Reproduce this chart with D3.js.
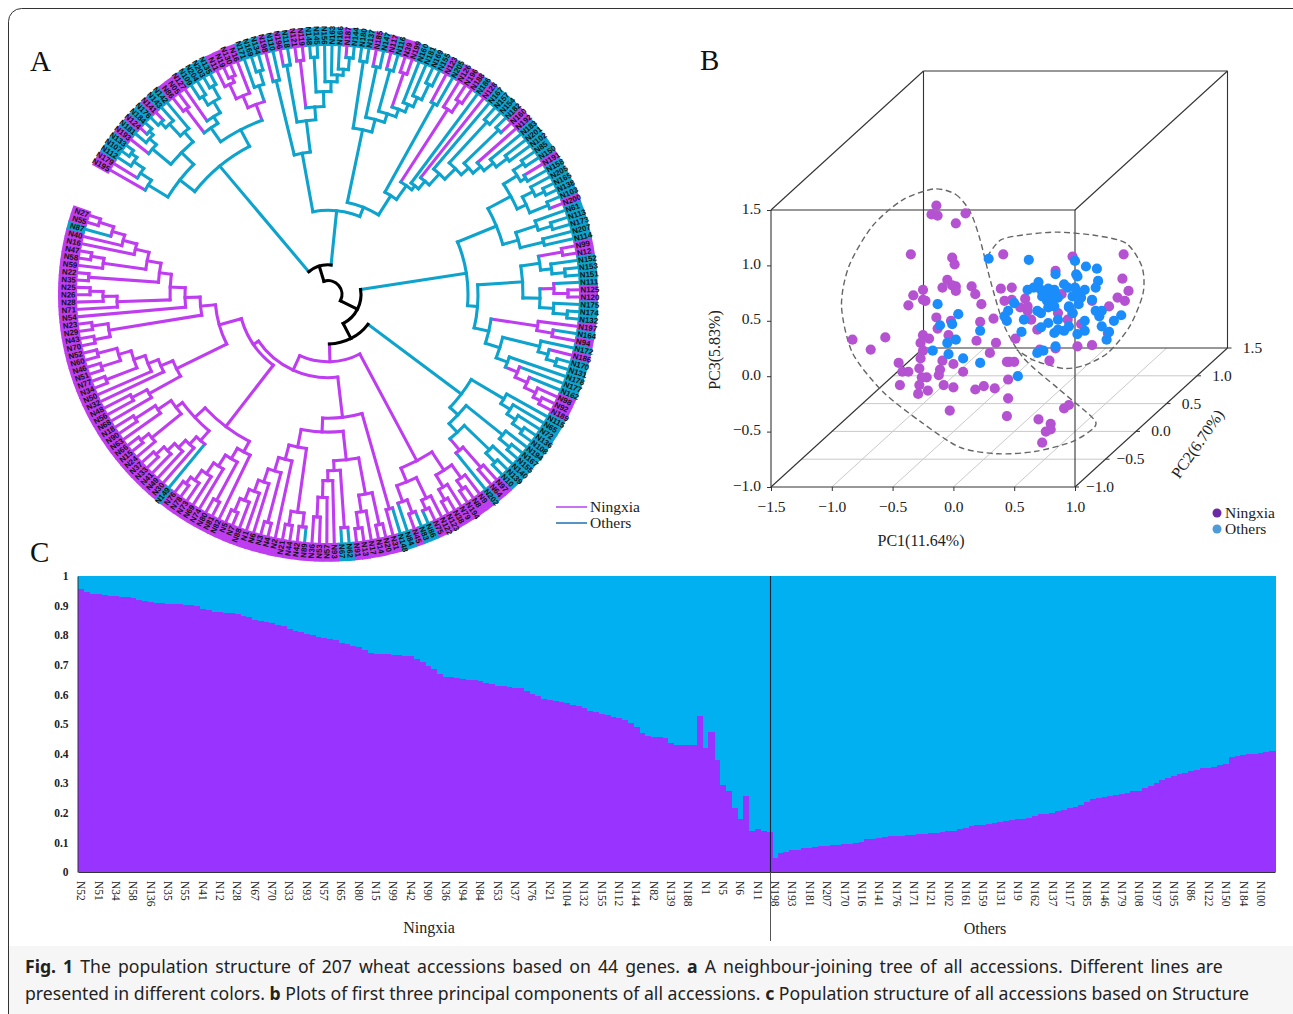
<!DOCTYPE html>
<html><head><meta charset="utf-8">
<script src="https://cdn.jsdelivr.net/npm/d3@7"></script>
<style>
html,body{margin:0;padding:0;background:#fff}
svg{display:block}
text{font-family:"Liberation Serif",serif;fill:#222}
.cap{font-family:"Noto Sans",sans-serif;font-size:17.65px;fill:#222}
</style></head><body>
<svg id="fig" width="1293" height="1014"></svg>
<script>
// ---------- Panel A data ----------
const leafNames=["N195","N179","N112","N107","N133","N193","N181","N124","N184","N176",
"N141","N143","N142","N86","N05","N127","N109","N204","N203","N135",
"N11","N19","N130","N16","N171","N169","N134","N198","N110","N196",
"N118","N121","N119","N148","N145","N156","N163","N166","N187","N144",
"N180","N137","N185","N147","N117","N116","N39","N199","N160","N181",
"N169","N155","N123","N205","N126","N196","N188","N186","N128","N167",
"N157","N154","N182","N160","N192","N183","N201","N102","N85","N150",
"N191","N158","N205","N165","N138","N103","N200","N61","N113","N173",
"N207","N114","N99","N12","N152","N153","N151","N111","N125","N120",
"N175","N174","N132","N197","N164","N94","N172","N186","N170","N131",
"N178","N177","N162","N98","N92","N189","N115","N65","N72","N136",
"N108","N194","N167","N155","N140","N139","N10","N97","N64","N202",
"N9","N8","N194","N79","N38","N123","N122","N75","N86","N83",
"N45","N84","N148","N31","N20","N14","N17","N13","N91","N62",
"N67","N93","N57","N53","N36","N89","N42","N44","N21","N2",
"N4","N3","N6","N1","N88","N7","N5","N82","N81","N80",
"N74","N69","N73","N78","N76","N149","N30","N49","N41","N33",
"N37","N24","N15","N66","N63","N90","N18","N68","N56","N48",
"N32","N50","N34","N77","N51","N46","N60","N52","N70","N43",
"N29","N23","N54","N71","N28","N26","N25","N35","N22","N59",
"N58","N47","N16","N40","N87","N55","N27"];
// 1 = Ningxia, 0 = Others, one per leaf
const leafNingxia=[1,1,0,0,0,1,0,1,0,0, 1,0,0,1,1,1,0,0,0,0, 1,1,1,1,0,0,0,1,0,1,
0,1,1,0,0,0,0,0,1,0, 0,0,1,0,1,0,1,1,0,0, 0,0,1,0,1,1,1,0,1,0,
0,0,0,1,1,0,0,0,0,0, 1,0,0,0,0,0,1,0,0,0, 0,0,1,1,0,0,0,0,1,1,
0,0,0,1,0,1,0,1,0,0, 0,0,0,1,1,1,0,0,0,0, 0,0,0,0,0,0,0,1,1,0,
1,1,1,1,1,1,1,1,0,0, 1,0,0,1,1,1,1,1,1,0, 0,1,1,1,1,1,1,1,1,1,
1,1,1,1,1,1,1,1,1,1, 1,1,1,1,1,0,1,1,1,1, 1,1,1,1,1,1,1,1,1,1,
1,1,1,1,1,1,1,1,1,1, 1,1,1,1,1,1,1,1,1,1, 1,1,1,1,0,1,1];
const branchOthersOverride=["N89"];
// Tree: [node distance from root, ...children]; 0 is a leaf, taken in leafNames order
const cladeA=[169,
 [188,[211,0,[224,0,[236,0,[243,0,0]]]],
      [205,[229,0,[238,0,[243,0,0]]],[218,[234,[241,0,0],0],0]]],
 [188,[205,[235,0,0],[213,0,[226,[236,0,0],[240,0,0]]]],
      [205,[218,[234,0,[240,0,0]],0],[222,0,[236,0,0]]]]];
const cladeB=[85,
 [145,[222,0,0],[177,[235,0,0],[190,[238,0,0],[205,[240,0,0],[215,0,[222,0,[228,0,[240,0,0]]]]]]]],
 [95,
  [170,[238,0,0],[183,[235,0,0],[192,[235,0,0],[200,[236,0,0],[208,0,[218,0,[235,0,0]]]]]]],
  [118,[220,0,0],[135,[222,0,[235,0,0]],[140,0,[150,0,[165,0,[180,[236,0,0],[190,[238,0,0],[200,0,[212,0,[226,0,0]]]]]]]]]]]];
const cladeC=[140,
 [182,
  [208,[224,[236,0,0],[230,0,0]],[218,[230,0,[240,0,0]],[238,0,0]]],
  [198,[220,0,[234,0,0]],[222,0,0]]],
 [150,
  [195,[214,[238,0,0],[225,0,[238,0,0]]],[212,[226,0,[240,0,0]],[226,0,[240,0,0]]]],
  [165,[212,0,[228,0,0]],[180,[218,0,[228,0,[238,0,0]]],[192,0,[205,0,[218,0,[230,0,[238,0,0]]]]]]]]];
const cladeD=[167,
 [205,0,[216,0,[226,0,[238,0,0]]]],
 [178,[225,0,[238,0,0]],[190,[225,0,[238,0,0]],[205,[232,0,0],0]]]];
const cladeE1=[190,
 [212,[228,0,[238,0,0]],[226,0,[238,0,0]]],
 [205,[228,0,[238,0,0]],[222,[236,0,0],0]]];
const cladeE2=[125,[225,0,0],
 [139,
  [168,[205,[238,0,0],[222,0,[238,0,0]]],[178,[236,0,0],[188,0,[205,0,[225,0,0]]]]],
  [157,[222,[236,0,0],[236,0,0]],[172,0,[186,[238,0,0],[200,0,[212,0,[224,0,[238,0,0]]]]]]]]];
const cladeE3b=[168,
 [180,0,[192,[236,0,0],[205,0,[218,0,[230,0,[238,0,0]]]]]],
 [182,[195,0,[205,0,[215,0,[225,0,[236,0,0]]]]],[190,[228,0,[238,0,0]],[206,0,[230,0,0]]]]];
const cladeE3c=[169,[205,0,[222,0,0]],[182,0,[193,0,[205,[238,0,0],[218,[238,0,0],[238,0,0]]]]]];
const cladeE3d=[128,[222,[238,0,0],[238,0,0]],
 [143,0,[158,[211,0,[225,0,[238,0,0]]],
  [170,[240,0,0],[184,[227,0,[240,0,0]],[198,0,[212,0,[225,0,[240,0,0]]]]]]]]];
const treeRoot=[14,[30,cladeA,cladeB],
 [33,cladeC,[50,cladeD,[68,cladeE1,[84,cladeE2,[90,cladeE3b,[113,cladeE3c,cladeE3d]]]]]]];

// ---------- Panel B data (PC1, PC3 as projected on the front face) ----------
const ningxiaPoints=[[-.14,1.54],[-.18,1.46],[-.13,1.45],[.10,1.47],[.02,1.38],[-.35,1.10],[-.01,1.07],[.01,1.01],[.41,1.10],[.98,1.08],[1.40,1.10],[.84,.95],[1.39,.88],[1.44,.77],[1.35,.71],[1.41,.68],[1.28,.63],[-.05,.87],[-.09,.80],[-.01,.82],[.02,.81],[.02,.77],[.15,.81],[.18,.74],[.23,.65],[.39,.79],[.48,.80],[-.25,.78],[-.33,.73],[-.25,.69],[-.23,.68],[-.37,.64],[-.14,.53],[-.02,.50],[-.13,.43],[.22,.49],[.33,.52],[.42,.68],[.48,.69],[.59,.70],[.55,.62],[.61,.59],[.69,.42],[1.27,.39],[1.02,.27],[1.14,.28],[.84,.25],[.71,.24],[.79,.14],[.51,.34],[.35,.30],[.19,.32],[.30,.21],[-.04,.37],[-.83,.33],[-.68,.24],[-.56,.35],[-.25,.37],[-.20,.34],[-.27,.30],[-.25,.23],[-.27,.16],[-.45,.12],[-.42,.04],[-.37,.04],[-.28,.07],[-.22,-.01],[-.26,-.01],[-.09,.14],[-.11,.06],[-.12,.01],[0,.11],[.08,.04],[.44,.13],[.46,.13],[.50,.13],[.45,-.03],[-.44,-.08],[-.28,-.08],[-.21,-.13],[-.29,-.16],[-.08,-.08],[0,-.10],[.18,-.12],[.25,-.09],[.34,-.11],[.45,-.20],[-.03,-.31],[.44,-.36],[.70,-.39],[.80,-.43],[.80,-.48],[.76,-.50],[.73,-.60],[.91,-.29],[.95,-.26],[.64,.51],[.86,.57],[.94,.51],[1.05,.47],[1.14,.68],[.89,.74],[.61,.63],[.98,.57]];
const othersPoints=[[.29,1.06],[.62,1.05],[1.00,1.04],[1.09,.99],[1.18,.97],[1.01,.92],[1.02,.90],[.84,.92],[1.19,.86],[1.17,.80],[.70,.85],[.61,.78],[.66,.80],[.72,.78],[.78,.79],[.83,.78],[.91,.83],[.94,.80],[1.00,.80],[1.08,.78],[1.03,.75],[.98,.72],[.73,.72],[.78,.72],[.84,.74],[.77,.68],[.81,.68],[.86,.71],[1.05,.71],[1.14,.69],[.95,.63],[1.03,.65],[.50,.66],[.45,.59],[.42,.54],[.44,.50],[.58,.51],[.72,.57],[.69,.59],[.78,.62],[.83,.63],[.78,.48],[.86,.51],[.98,.57],[.95,.62],[1.17,.59],[1.22,.59],[1.20,.54],[1.22,.45],[1.08,.50],[1.38,.55],[1.32,.50],[1.28,.40],[1.26,.33],[1.08,.41],[1.02,.38],[.91,.41],[.83,.39],[.56,.40],[-.13,.65],[.04,.56],[-.11,.46],[-.01,.47],[.22,.41],[.02,.33],[-.05,.30],[-.17,.23],[-.04,.20],[.08,.16],[.22,.12],[.53,0],[.69,.21],[.74,.23],[.84,.27],[.72,.44],[.95,.45],[.86,.42]];
const leftHull=[[-.16,1.69],[.02,1.64],[.14,1.48],[.22,1.23],[.31,.84],[.42,.45],[.58,.16],[.86,-.11],[1.14,-.37],[1.16,-.46],[.98,-.59],[.67,-.68],[.36,-.70],[.05,-.64],[-.27,-.41],[-.58,-.14],[-.83,.21],[-.92,.63],[-.86,.99],[-.67,1.35],[-.42,1.59]];
const rightHull=[[.28,1.08],[.39,1.23],[.61,1.28],[.86,1.30],[1.17,1.27],[1.42,1.20],[1.55,.99],[1.56,.75],[1.45,.45],[1.27,.21],[1.08,.10],[.91,.07],[.67,.14],[.52,.24]];
const pcTicks13=[-1.5,-1,-.5,0,.5,1];
const pc3Ticks=[-1,-.5,0,.5,1,1.5];
const pc2Ticks=[-1,-.5,0,.5,1,1.5];

// ---------- Panel C data: Ningxia ancestry of each accession ----------
const ningxiaShare=[.955,.945,.94,.938,.936,.934,.932,.93,.928,.925,
.92,.915,.912,.91,.908,.906,.905,.904,.903,.902,
.90,.89,.885,.88,.878,.876,.874,.87,.865,.86,
.85,.848,.845,.84,.835,.83,.82,.815,.81,.805,
.80,.795,.79,.788,.785,.775,.77,.765,.76,.75,
.74,.738,.736,.735,.733,.732,.731,.73,.72,.71,
.695,.685,.67,.66,.658,.655,.652,.65,.648,.645,
.64,.635,.63,.628,.625,.622,.62,.61,.60,.595,
.585,.58,.578,.575,.57,.565,.56,.555,.545,.54,
.535,.53,.525,.52,.515,.505,.49,.47,.46,.456,
.456,.453,.436,.43,.428,.428,.428,.526,.42,.474,
.38,.295,.274,.217,.179,.256,.14,.145,.14,.135,
.048,.064,.066,.073,.075,.08,.082,.084,.087,.089,
.09,.092,.094,.095,.097,.10,.11,.113,.115,.117,
.12,.122,.123,.125,.126,.128,.13,.131,.133,.135,
.138,.14,.145,.15,.155,.158,.16,.163,.166,.17,
.173,.175,.178,.18,.183,.19,.195,.197,.20,.205,
.21,.215,.22,.228,.235,.245,.25,.255,.257,.26,
.265,.268,.272,.275,.285,.29,.30,.31,.318,.325,
.33,.335,.34,.345,.35,.352,.356,.36,.365,.39,
.393,.396,.398,.40,.402,.405,.41];
// every third bar is labelled
const barTickLabels=["N52","N51","N34","N58","N136","N35","N55","N41","N12","N28","N67","N70","N33","N93","N57","N65","N80","N15","N99","N42","N90","N36","N94","N84","N53","N37","N76","N21","N104","N132","N155","N112","N144","N82","N139","N188","N1","N5","N6","N11",
"N198","N193","N181","N207","N170","N116","N141","N176","N171","N121","N102","N161","N159","N131","N19","N162","N137","N117","N185","N146","N179","N108","N197","N195","N86","N122","N150","N184","N100"];
const shareTicks=[0,.1,.2,.3,.4,.5,.6,.7,.8,.9,1];

// ---------- Drawing ----------
const svg=d3.select("#fig");
const PURPLE="#bf3df0",TEAL="#0ea3cc";

// frame and caption band
svg.append("rect").attr("x",9).attr("y",946).attr("width",1284).attr("height",68).attr("fill","#f6f6f6");
svg.append("rect").attr("x",8.5).attr("y",8.5).attr("width",1310).attr("height",1100).attr("rx",13)
  .attr("fill","none").attr("stroke","#333").attr("stroke-width",1);

[["A",30,71],["B",700,70],["C",30,562]].forEach(d=>svg.append("text").text(d[0]).attr("x",d[1]).attr("y",d[2]).attr("font-size",29).style("fill","#111"));

// ---- Panel A ----
const gA=svg.append("g").attr("transform","translate(328,294.5) scale(1,0.99)");
const root=d3.hierarchy(treeRoot,d=>Array.isArray(d)?d.slice(1):null);
const leaves=root.leaves();
const angle=d3.scaleLinear().domain([0,206]).range([-60,-60+206*1.692]);
const radius=d3.scaleLinear().domain([0,251]).range([0,251]);
leaves.forEach((l,i)=>{l.idx=i;l.name=leafNames[i];l.ning=leafNingxia[i];l.ang=angle(i);l.r=radius(251);
  l.color=(l.ning&&!branchOthersOverride.includes(l.name))?PURPLE:TEAL;});
root.eachAfter(n=>{ if(n.children){ n.ang=(n.children[0].ang+n.children[n.children.length-1].ang)/2; n.r=radius(n.data[0]);
   const ls=n.leaves(); n.pn=d3.sum(ls,l=>l.ning); n.po=ls.length-n.pn; n.first=ls[0].idx; }});
// the clade from leaf 120 onward is the Ningxia clade; its inner branches stay purple
root.eachBefore(n=>{ if(n.children){ n.color=n.first>=120?PURPLE:(n.pn>n.po?PURPLE:(n.pn<n.po?TEAL:(n.parent?n.parent.color:TEAL))); n.core=n.data[0]<=50; }});
const rad=a=>(a-90)*Math.PI/180;
const gLinks=gA.append("g").attr("fill","none").attr("stroke-width",3.1).attr("stroke-linecap","square");
const nodes=root.descendants();
const stem=n=>{const p=d3.path();const a=rad(n.ang);p.moveTo(n.parent.r*Math.cos(a),n.parent.r*Math.sin(a));p.lineTo(n.r*Math.cos(a),n.r*Math.sin(a));return p.toString();};
const bow=n=>{const p=d3.path();p.arc(0,0,n.r,rad(n.children[0].ang),rad(n.children[n.children.length-1].ang));return p.toString();};
const ordered=nodes.slice().sort((a,b)=>(a.core?1:0)-(b.core?1:0));
gLinks.selectAll("path.stem").data(ordered.filter(n=>n.parent)).join("path").attr("class","stem").attr("d",stem).attr("stroke",n=>n.core?"#000":n.color);
gLinks.selectAll("path.bow").data(ordered.filter(n=>n.children)).join("path").attr("class","bow").attr("d",bow).attr("stroke",n=>n.core?"#000":n.color);
// label ring
const wedge=d3.arc().innerRadius(251).outerRadius(270);
const step=1.692*Math.PI/180;
gA.append("g").selectAll("path").data(leaves).join("path")
  .attr("d",l=>wedge({startAngle:l.ang*Math.PI/180-step/2-.002,endAngle:l.ang*Math.PI/180+step/2+.002}))
  .attr("fill",l=>l.ning?PURPLE:TEAL);
gA.append("g").selectAll("text").data(leaves).join("text")
  .text(l=>l.name)
  .attr("transform",l=>{const a=((l.ang%360)+360)%360; return a<180?`rotate(${l.ang-90}) translate(252.5,0)`:`rotate(${l.ang-90}) translate(252.5,0) rotate(180)`;})
  .attr("text-anchor",l=>{const a=((l.ang%360)+360)%360; return a<180?"start":"end";})
  .attr("dy","0.35em").attr("font-size",7.9).attr("font-weight","700")
  .style("font-family","'Liberation Sans',sans-serif").style("fill","#111");
// legend A
const legA=[["Ningxia","#b94ef0",507],["Others","#2b78b8",523]];
legA.forEach(d=>{svg.append("line").attr("x1",556).attr("x2",587).attr("y1",d[2]).attr("y2",d[2]).attr("stroke",d[1]).attr("stroke-width",1.6);
  svg.append("text").text(d[0]).attr("x",590).attr("y",d[2]+5).attr("font-size",15.5);});

// ---- Panel B ----
const gB=svg.append("g");
const x3=d3.scaleLinear().domain([-1.5,1]).range([771,1075]);
const y3=d3.scaleLinear().domain([-1,1.5]).range([487,210]);
const dpx=d3.scaleLinear().domain([-1,1.5]).range([0,152.5]);
const dpy=d3.scaleLinear().domain([-1,1.5]).range([0,-139]);
const proj=(a,b,c)=>[x3(a)+dpx(b),y3(c)+dpy(b)];
const seg=(g,p,q,col,w)=>g.append("line").attr("x1",p[0]).attr("y1",p[1]).attr("x2",q[0]).attr("y2",q[1]).attr("stroke",col).attr("stroke-width",w);
// floor grid
[-1,-.5,0,.5].forEach(t=>seg(gB,proj(t,-1,-1),proj(t,1.5,-1),"#c9c9c9",1));
[-.5,0,.5,1].forEach(t=>seg(gB,proj(-1.5,t,-1),proj(1,t,-1),"#c9c9c9",1));
// cube
const A0=-1.5,A1=1,B0=-1,B1=1.5,C0=-1,C1=1.5;
[[[A0,B0,C0],[A1,B0,C0]],[[A0,B0,C1],[A1,B0,C1]],[[A0,B0,C0],[A0,B0,C1]],[[A1,B0,C0],[A1,B0,C1]],
 [[A0,B1,C0],[A1,B1,C0]],[[A0,B1,C1],[A1,B1,C1]],[[A0,B1,C0],[A0,B1,C1]],[[A1,B1,C0],[A1,B1,C1]],
 [[A0,B0,C0],[A0,B1,C0]],[[A1,B0,C0],[A1,B1,C0]],[[A0,B0,C1],[A0,B1,C1]],[[A1,B0,C1],[A1,B1,C1]]]
 .forEach(e=>seg(gB,proj(...e[0]),proj(...e[1]),"#333",1.1));
const fmt=d3.format(".1f");
const axPc1=d3.axisBottom(x3).tickValues(pcTicks13).tickFormat(fmt).tickSize(4).tickPadding(10);
const gx=gB.append("g").attr("transform","translate(0,487)").call(axPc1);
gx.select(".domain").remove();
gx.selectAll("text").attr("font-size",15.5).style("font-family","'Liberation Serif',serif").style("fill","#222");
gx.selectAll("line").attr("stroke","#333");
const axPc3=d3.axisLeft(y3).tickValues(pc3Ticks).tickFormat(fmt).tickSize(4).tickPadding(6);
const gy=gB.append("g").attr("transform","translate(771,0)").call(axPc3);
gy.select(".domain").remove();
gy.selectAll("text").attr("font-size",15.5).attr("dy","0.2em").style("font-family","'Liberation Serif',serif").style("fill","#222");
gy.selectAll("line").attr("stroke","#333");
pc2Ticks.forEach(t=>{const p=proj(1,t,-1);
  seg(gB,p,[p[0]+4,p[1]],"#333",1);
  gB.append("text").text(fmt(t).replace("-","−")).attr("x",p[0]+25).attr("y",p[1]+5).attr("text-anchor","middle").attr("font-size",15.5);});
const curveLine=d3.line().x(d=>x3(d[0])).y(d=>y3(d[1]));
gB.append("path").attr("d",curveLine.curve(d3.curveCardinalClosed.tension(0.2))(leftHull)).attr("fill","none").attr("stroke","#666").attr("stroke-width",1.4).attr("stroke-dasharray","6 3.5");
gB.append("path").attr("d",curveLine.curve(d3.curveCardinal.tension(0.2))(rightHull)).attr("fill","none").attr("stroke","#666").attr("stroke-width",1.4).attr("stroke-dasharray","6 3.5");
gB.append("g").selectAll("circle").data(ningxiaPoints).join("circle").attr("cx",d=>x3(d[0])).attr("cy",d=>y3(d[1])).attr("r",5.1).attr("fill","#b452d2");
gB.append("g").selectAll("circle").data(othersPoints).join("circle").attr("cx",d=>x3(d[0])).attr("cy",d=>y3(d[1])).attr("r",5.1).attr("fill","#1a8dfa");
gB.append("text").text("PC1(11.64%)").attr("x",921).attr("y",546).attr("text-anchor","middle").attr("font-size",16);
gB.append("text").text("PC3(5.83%)").attr("transform","translate(720,350) rotate(-90)").attr("text-anchor","middle").attr("font-size",16);
gB.append("text").text("PC2(6.70%)").attr("transform","translate(1202,447) rotate(-55)").attr("text-anchor","middle").attr("font-size",16);
[["Ningxia","#6a2aa6",513],["Others","#4f9ad8",529]].forEach(d=>{
  gB.append("circle").attr("cx",1217).attr("cy",d[2]).attr("r",4.5).attr("fill",d[1]);
  gB.append("text").text(d[0]).attr("x",1225).attr("y",d[2]+5).attr("font-size",15.5);});

// ---- Panel C ----
const gC=svg.append("g");
const xb=d3.scaleBand().domain(d3.range(ningxiaShare.length)).range([78,1275]);
const yb=d3.scaleLinear().domain([0,1]).range([872,576]);
gC.append("g").attr("shape-rendering","crispEdges").selectAll("rect").data(ningxiaShare).join("rect")
  .attr("x",(d,i)=>xb(i)).attr("width",xb.bandwidth()+.6).attr("y",yb(1)).attr("height",d=>yb(d)-yb(1)).attr("fill","#00b0f0");
gC.append("g").attr("shape-rendering","crispEdges").selectAll("rect").data(ningxiaShare).join("rect")
  .attr("x",(d,i)=>xb(i)).attr("width",xb.bandwidth()+.6).attr("y",d=>yb(d)).attr("height",d=>yb(0)-yb(d)).attr("fill","#9933ff");
const labelled=d3.range(0,ningxiaShare.length,3);
const axBars=d3.axisBottom(xb).tickValues(labelled).tickFormat((d,i)=>barTickLabels[i]).tickSize(0).tickPadding(0);
const gbx=gC.append("g").attr("transform","translate(0,872)").call(axBars);
gbx.select(".domain").attr("stroke","#333");
gbx.selectAll("text").attr("transform","translate(0,9) rotate(90)").attr("x",0).attr("y",0).attr("dy","0.32em").attr("text-anchor","start")
  .attr("font-size",11.5).style("font-family","'Liberation Serif',serif").style("fill","#222");
const axShare=d3.axisLeft(yb).tickValues(shareTicks).tickFormat(d=>d===0?"0":d===1?"1":d3.format(".1f")(d)).tickSize(0).tickPadding(9);
const gby=gC.append("g").attr("transform","translate(77.5,0)").call(axShare);
gby.select(".domain").attr("stroke","#333");
gby.selectAll("text").attr("font-size",11.5).attr("font-weight","700").style("font-family","'Liberation Serif',serif").style("fill","#222");
gC.append("line").attr("x1",770.5).attr("x2",770.5).attr("y1",576).attr("y2",872).attr("stroke","#123").attr("stroke-width",1.1);
gC.append("line").attr("x1",770.5).attr("x2",770.5).attr("y1",872).attr("y2",941).attr("stroke","#555").attr("stroke-width",1);
gC.append("text").text("Ningxia").attr("x",429).attr("y",933).attr("text-anchor","middle").attr("font-size",16);
gC.append("text").text("Others").attr("x",985).attr("y",934).attr("text-anchor","middle").attr("font-size",16);

// ---- Caption ----
const cap1=svg.append("text").attr("class","cap").attr("x",25).attr("y",973).style("word-spacing","2.46px");
[["Fig. 1",1]," The population structure of 207 wheat accessions based on 44 genes. ",["a",1]," A neighbour-joining tree of all accessions. Different lines are"]
 .forEach(s=>{const b=Array.isArray(s);cap1.append("tspan").text(b?s[0]:s).attr("font-weight",b?700:400);});
const cap2=svg.append("text").attr("class","cap").attr("x",25).attr("y",1000);
["presented in different colors. ",["b",1]," Plots of first three principal components of all accessions. ",["c",1]," Population structure of all accessions based on Structure"]
 .forEach(s=>{const b=Array.isArray(s);cap2.append("tspan").text(b?s[0]:s).attr("font-weight",b?700:400);});
</script>
</body></html>
